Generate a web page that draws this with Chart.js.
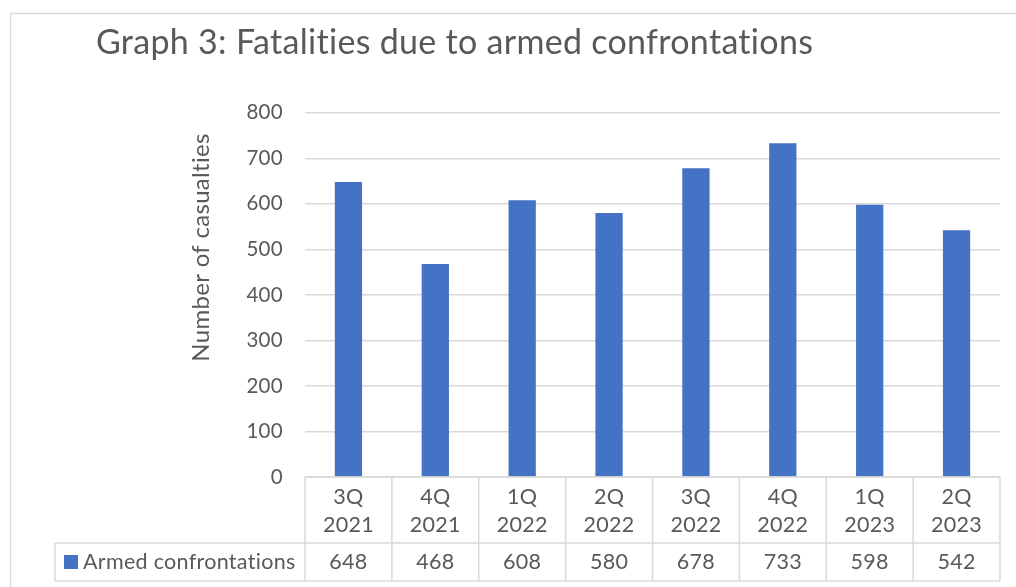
<!DOCTYPE html>
<html>
<head>
<meta charset="utf-8">
<script src="https://cdn.jsdelivr.net/npm/chart.js@4/dist/chart.umd.min.js"></script>
<style>
html,body{margin:0;padding:0;background:#fff;}
#wrap{width:1016px;height:587px;position:relative;}
</style>
</head>
<body>
<div id="wrap"><canvas id="c" width="1016" height="587"></canvas></div>
<script>
const quarters = ['3Q', '4Q', '1Q', '2Q', '3Q', '4Q', '1Q', '2Q'];
const years = ['2021', '2021', '2022', '2022', '2022', '2022', '2023', '2023'];
const armedConfrontations = [648, 468, 608, 580, 678, 733, 598, 542];
const seriesName = 'Armed confrontations';
const chartTitle = 'Graph 3: Fatalities due to armed confrontations';
const yAxisTitle = 'Number of casualties';
const yTicks = [0, 100, 200, 300, 400, 500, 600, 700, 800];

const categories = quarters.map((q, i) => [q, years[i]]);

const TEXT = '#595959';
const GRID = '#d9d9d9';
const BAR = '#4472C4';
const FONT = 'Lato, "Open Sans", sans-serif';

const noLigatures = {
  id: 'noLigatures',
  beforeDraw(chart) { chart.ctx.letterSpacing = '0.3px'; }
};

const tablePlugin = {
  id: 'dataTable',
  afterDraw(chart) {
    const ctx = chart.ctx;
    const area = chart.chartArea;
    const xs = chart.scales.x;
    const n = categories.length;
    const step = (area.right - area.left) / n;
    const top = area.bottom;
    const mid = top + 66;
    const bot = top + 104;
    const legendLeft = 55;
    ctx.save();
    ctx.letterSpacing = '0.3px';
    // outer chart border
    ctx.strokeStyle = GRID;
    ctx.lineWidth = 1.5;
    ctx.beginPath();
    ctx.moveTo(10.5, 600); ctx.lineTo(10.5, 13.5); ctx.lineTo(1020, 13.5);
    ctx.stroke();
    // table grid
    ctx.beginPath();
    ctx.moveTo(area.left, top); ctx.lineTo(area.right, top);
    ctx.moveTo(legendLeft, mid); ctx.lineTo(area.right, mid);
    ctx.moveTo(legendLeft, bot); ctx.lineTo(area.right, bot);
    for (let i = 0; i <= n; i++) {
      const x = i === n ? area.right : xs.getPixelForValue(i) - step / 2;
      ctx.moveTo(x, top); ctx.lineTo(x, bot);
    }
    ctx.moveTo(legendLeft, mid); ctx.lineTo(legendLeft, bot);
    ctx.stroke();
    // header texts and values
    ctx.fillStyle = TEXT;
    ctx.font = '21.5px ' + FONT;
    ctx.textAlign = 'center';
    ctx.textBaseline = 'middle';
    for (let i = 0; i < n; i++) {
      const cx = xs.getPixelForValue(i);
      ctx.fillText(categories[i][0], cx, top + 20);
      ctx.fillText(categories[i][1], cx, top + 48);
      ctx.fillText(String(armedConfrontations[i]), cx, mid + 19);
    }
    // legend key
    ctx.fillStyle = BAR;
    ctx.fillRect(64, mid + 12, 14, 14);
    ctx.fillStyle = TEXT;
    ctx.textAlign = 'left';
    ctx.fillText(seriesName, 83, mid + 19);
    // y axis title
    ctx.font = '24px ' + FONT;
    ctx.translate(201, 247.5);
    ctx.rotate(-Math.PI / 2);
    ctx.textAlign = 'center';
    ctx.fillText(yAxisTitle, 0, 0);
    ctx.restore();
  }
};

new Chart(document.getElementById('c'), {
  type: 'bar',
  data: {
    labels: categories,
    datasets: [{
      label: seriesName,
      data: armedConfrontations,
      backgroundColor: BAR,
      borderWidth: 0,
      categoryPercentage: 1,
      barPercentage: 0.314
    }]
  },
  options: {
    responsive: false,
    animation: false,
    devicePixelRatio: 1,
    layout: { padding: { left: 96, right: 16, top: 0, bottom: 0 } },
    plugins: {
      legend: { display: false },
      tooltip: { enabled: false },
      title: {
        display: true,
        text: chartTitle,
        align: 'start',
        color: TEXT,
        font: { family: FONT, size: 34, weight: 'normal' },
        padding: { top: 23, bottom: 49 }
      }
    },
    scales: {
      x: {
        ticks: { display: false },
        grid: { display: false },
        border: { display: false },
        afterFit(scale) { scale.height = 110; }
      },
      y: {
        min: yTicks[0],
        max: yTicks[yTicks.length - 1],
        afterBuildTicks(scale) { scale.ticks = yTicks.map(v => ({ value: v })); },
        ticks: { color: TEXT, font: { family: FONT, size: 20.5 }, padding: 22 },
        grid: { color: GRID, lineWidth: 1.5, drawTicks: false },
        border: { display: false },
        afterFit(scale) { scale.width = 209; }
      }
    }
  },
  plugins: [noLigatures, tablePlugin]
});
</script>
</body>
</html>
